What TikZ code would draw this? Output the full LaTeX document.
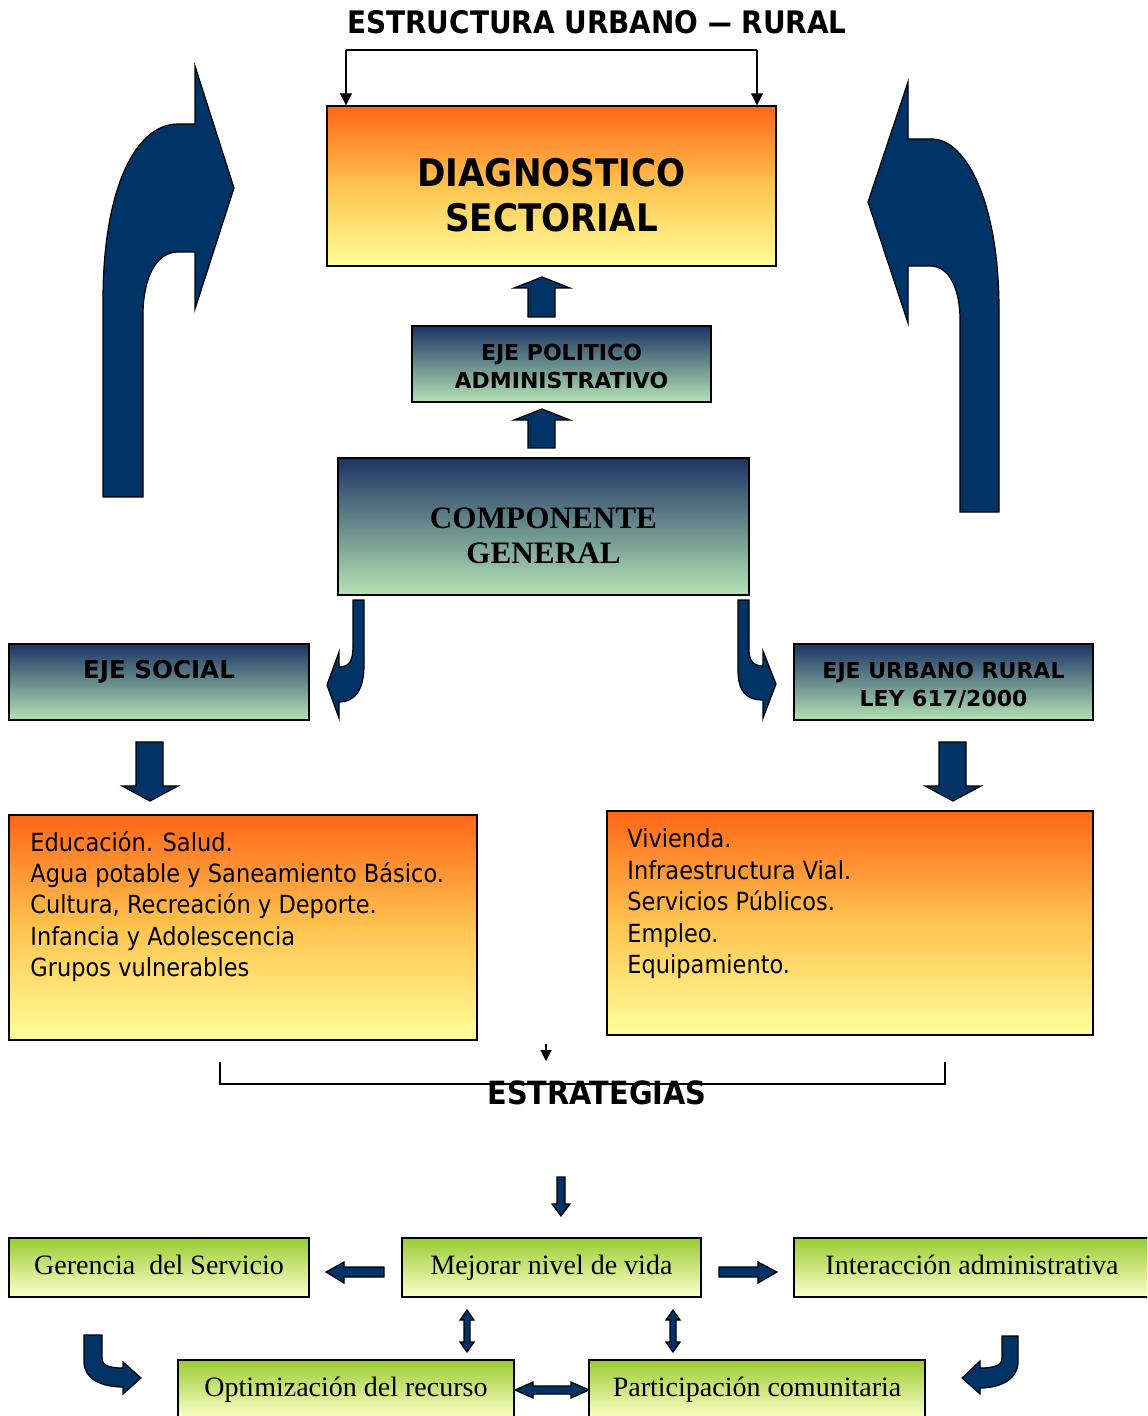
\documentclass[tikz,border=0pt]{standalone}
\usepackage{fontspec}
\setmainfont{DejaVu Sans}
\newfontfamily\nrw[FakeStretch=0.9,Ligatures=TeX]{DejaVu Sans}
\newfontfamily\tnr{Liberation Serif}
\usetikzlibrary{arrows.meta}
\definecolor{navy}{RGB}{0,51,102}
\definecolor{orT}{RGB}{255,102,25}
\definecolor{orM}{RGB}{255,196,80}
\definecolor{orB}{RGB}{255,255,153}
\definecolor{blT}{RGB}{28,52,100}
\definecolor{blB}{RGB}{180,228,180}
\definecolor{grT}{RGB}{153,204,51}
\definecolor{grB}{RGB}{255,255,204}
\tikzset{
  blk/.style={fill=navy, draw=black, line width=0.6pt},
  obox/.style={draw=black, line width=0.7pt, top color=orT, bottom color=orB, middle color=orM},
  bbox/.style={draw=black, line width=0.7pt, top color=blT, bottom color=blB},
  gbox/.style={draw=black, line width=0.7pt, top color=grT, bottom color=grB, align=center, font=\tnr\fontsize{14}{16}\selectfont, text height=9.5pt, text depth=3pt},
  lbl/.style={align=center, inner sep=0pt},
  thin/.style={draw=black, line width=0.6pt},
  tip/.style={thin, -{Triangle[length=6pt,width=6pt]}}
}
\begin{document}
\begin{tikzpicture}[x=0.5pt,y=-0.5pt]
\clip (0,0) rectangle (1147,1416);
\fill[white] (0,0) rectangle (1147,1416);
% title and bracket
\node[font=\nrw\fontsize{15.5}{18}\bfseries\selectfont] (title) at (597,22) {ESTRUCTURA URBANO \scalebox{0.85}[1]{—} RURAL};
\node[obox, minimum width=224.5pt, minimum height=80pt] (diag) at (551.5,186) {};
\node[lbl, font=\nrw\fontsize{19}{22.5}\bfseries\selectfont] (diagt) at (551.5,195) {DIAGNOSTICO\\SECTORIAL};
\coordinate (b1) at (346,50);
\coordinate (b2) at (757,50);
\draw[thin] (b1) -- (b2);
\draw[tip] (b1) -- (b1 |- diag.north);
\draw[tip] (b2) -- (b2 |- diag.north);
% blue boxes
\node[bbox, minimum width=149.5pt, minimum height=38pt] (pol) at (561.5,364) {};
\node[lbl, font=\fontsize{11}{14}\bfseries\selectfont] (polt) at (561.5,366) {EJE POLITICO\\ADMINISTRATIVO};
\node[bbox, minimum width=205.5pt, minimum height=68.5pt] (comp) at (543.5,526.5) {};
\node[lbl, font=\tnr\fontsize{15.6}{17.5}\bfseries\selectfont] (compt) at (543.5,535.5) {COMPONENTE\\GENERAL};
\node[bbox, minimum width=150pt, minimum height=38pt] (soc) at (159,682) {};
\node[lbl, font=\fontsize{12.3}{14}\bfseries\selectfont] (soct) at (159,672) {EJE SOCIAL};
\node[bbox, minimum width=149.5pt, minimum height=38pt] (urb) at (943.5,682) {};
\node[lbl, font=\fontsize{11}{14}\bfseries\selectfont] (urbt) at (943.5,685) {EJE URBANO RURAL\\LEY 617/2000};
% up block arrows
\path[blk] (528,317) -- (528,288) -- (514,288) -- (542,277) -- (570,288) -- (555,288) -- (555,317) -- cycle;
\path[blk] (528,448) -- (528,420) -- (514,420) -- (542,409) -- (570,420) -- (555,420) -- (555,448) -- cycle;
% big curved arrows
\path[blk] (103,497) -- (103,300) .. controls (103,190) and (135,124) .. (178,124) -- (195,124) -- (195,66) -- (234,188) -- (195,309) -- (195,252) -- (178,252) .. controls (155,252) and (143,280) .. (143,315) -- (143,497) -- cycle;
\path[blk] (999,512) -- (999,310) .. controls (999,200) and (965,139) .. (932,139) -- (908,139) -- (908,82) -- (868,202) -- (908,323) -- (908,266) -- (930,266) .. controls (950,266) and (960,290) .. (960,320) -- (960,512) -- cycle;
% small curved arrows
\path[blk] (353,600) -- (364,600) -- (364,665) .. controls (364,690) and (355,702) .. (339,702) -- (339,718) -- (327,685) -- (339,652) -- (339,667) .. controls (350,667) and (353,660) .. (353,645) -- cycle;
\path[blk] (738,600) -- (749,600) -- (749,650) .. controls (749,660) and (753,666) .. (763,666) -- (763,651) -- (776,684) -- (763,718) -- (763,700) .. controls (745,700) and (738,690) .. (738,670) -- cycle;
% down block arrows
\path[blk] (136,742) -- (163,742) -- (163,786) -- (178,786) -- (150,801) -- (122,786) -- (136,786) -- cycle;
\path[blk] (939,742) -- (966,742) -- (966,786) -- (981,786) -- (953,801) -- (925,786) -- (939,786) -- cycle;
% orange boxes
\node[obox, minimum width=234pt, minimum height=112.5pt] (lbox) at (243,927.5) {};
\node[obox, minimum width=243pt, minimum height=112pt] (rbox) at (850,923) {};
\node[anchor=north west, align=left, inner sep=0pt, font=\nrw\fontsize{12.5}{15.6}\selectfont] (ltext) at (30,831) {Educación. Salud.\\Agua potable y Saneamiento Básico.\\Cultura, Recreación y Deporte.\\Infancia y Adolescencia\\Grupos vulnerables};
\node[anchor=north west, align=left, inner sep=0pt, font=\nrw\fontsize{12.5}{15.8}\selectfont] (rtext) at (627,828) {Vivienda.\\Infraestructura Vial.\\Servicios Públicos.\\Empleo.\\Equipamiento.};
% estrategias
\coordinate (s0) at (546,1044);
\coordinate (s1) at (546,1061);
\draw[thin, -{Triangle[length=5.5pt,width=5.5pt]}] (s0) -- (s1);
\coordinate (k1) at (220,1062);
\coordinate (k2) at (945,1062);
\draw[thin] (k1) -- (220,1084) -- (945,1084) -- (k2);
\node[font=\nrw\fontsize{16}{18}\bfseries\selectfont] (estr) at (597,1093) {ESTRATEGIAS};
\path[blk] (557,1177) -- (565,1177) -- (565,1204) -- (570,1204) -- (561,1216) -- (552,1204) -- (557,1204) -- cycle;
% bottom boxes
\node[gbox, minimum width=150pt, minimum height=29.5pt] (ger) at (159,1267.5) {Gerencia\ \ del Servicio};
\node[gbox, minimum width=149.5pt, minimum height=29.5pt] (mej) at (551.5,1267.5) {Mejorar nivel de vida};
\node[gbox, minimum width=178pt, minimum height=29.5pt] (int) at (972,1267.5) {Interacción administrativa};
\node[gbox, minimum width=168pt, minimum height=29.5pt] (opt) at (346,1389.5) {Optimización del recurso};
\node[gbox, minimum width=168pt, minimum height=29.5pt] (par) at (757,1389.5) {Participación comunitaria};
% bottom arrows
\path[blk] (384,1267) -- (344,1267) -- (344,1262) -- (326,1272) -- (344,1283) -- (344,1277) -- (384,1277) -- cycle;
\path[blk] (719,1267) -- (758,1267) -- (758,1262) -- (777,1272) -- (758,1283) -- (758,1277) -- (719,1277) -- cycle;
\foreach \c in {467,673}{
  \path[blk] (\c-3,1320) -- (\c-7,1320) -- (\c,1310) -- (\c+7,1320) -- (\c+3,1320) -- (\c+3,1342) -- (\c+7,1342) -- (\c,1352) -- (\c-7,1342) -- (\c-3,1342) -- cycle;
}
\path[blk] (515,1390) -- (533,1382) -- (533,1386) -- (571,1386) -- (571,1382) -- (589,1390) -- (571,1398) -- (571,1394) -- (533,1394) -- (533,1398) -- cycle;
\path[blk] (84,1335) -- (102,1335) -- (102,1358) .. controls (102,1365) and (108,1368) .. (123,1368) -- (123,1362) -- (141,1378) -- (123,1394) -- (123,1387) .. controls (100,1387) and (84,1378) .. (84,1362) -- cycle;
\path[blk] (1002,1336) -- (1018,1336) -- (1018,1362) .. controls (1018,1378) and (1002,1388) .. (980,1388) -- (980,1394) -- (962,1378) -- (980,1361) -- (980,1368) .. controls (995,1368) and (1002,1365) .. (1002,1358) -- cycle;
\end{tikzpicture}
\end{document}
